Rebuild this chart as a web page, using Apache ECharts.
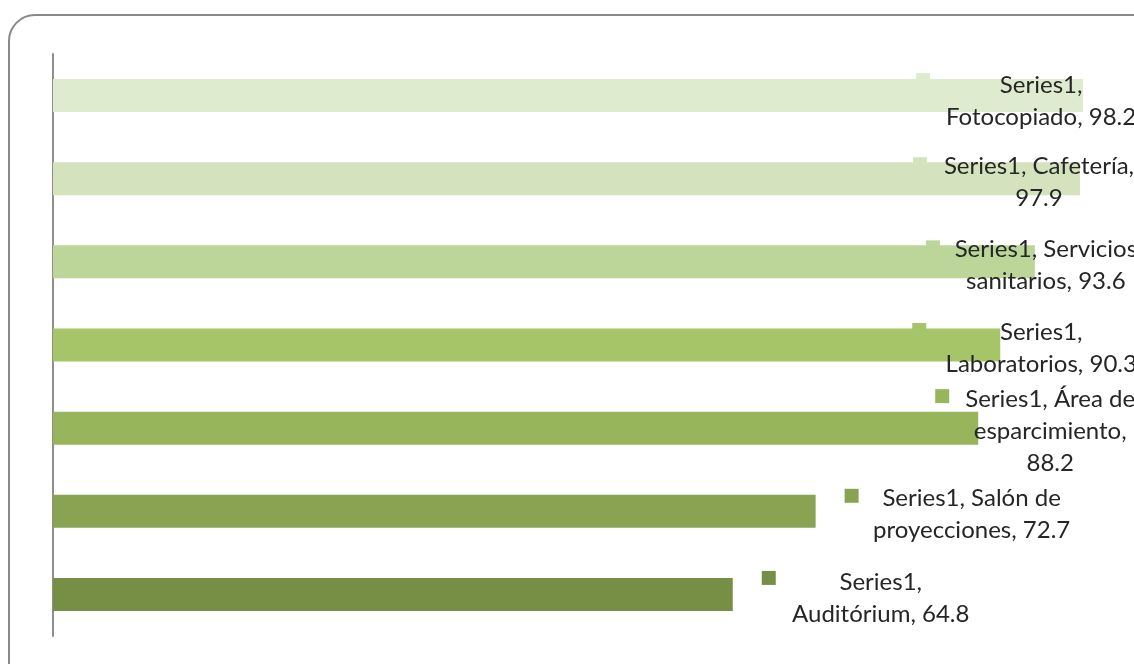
<!DOCTYPE html>
<html>
<head>
<meta charset="utf-8">
<style>
  html, body { margin: 0; padding: 0; background: #ffffff; }
  #chart { width: 1134px; height: 664px; }
</style>
<script src="https://cdn.jsdelivr.net/npm/echarts@6/dist/echarts.min.js"></script>
</head>
<body>
<div id="chart"></div>
<script>
// Satisfaction by facility (top to bottom)
const seriesName = 'Series1';
const categories = ['Fotocopiado', 'Cafetería', 'Servicios sanitarios', 'Laboratorios',
                    'Área de esparcimiento', 'Salón de proyecciones', 'Auditórium'];
const values = [98.2, 97.9, 93.6, 90.3, 88.2, 72.7, 64.8];

// Words per line when the data label wraps
const labelLines = [[1, 2], [2, 1], [2, 2], [1, 2], [3, 1, 1], [3, 2], [1, 2]];

// Bar fills, light to dark green
const palette = ['#dfebcf', '#d4e3be', '#bcd598', '#a6c468', '#97b55b', '#89a352', '#778f45'];

// Label placement relative to the bar end: text centre [dx, dy], key square [dx, dy]
const labelPlace = [
  { text: [-42, 5.5], key: [-167, -22.5] },
  { text: [-41, 3.5], key: [-167, -21.5] },
  { text: [11, 3.5],  key: [-109, -21.5] },
  { text: [41, 3.5],  key: [-88, -22] },
  { text: [72, 3.5],  key: [-43, -39] },
  { text: [156, 3],   key: [29, -22.5] },
  { text: [148, 4],   key: [29, -23.5] }
];

function labelText(i) {
  const words = (seriesName + ', ' + categories[i] + ', ' + values[i]).split(' ');
  const lines = [];
  let k = 0;
  labelLines[i].forEach(function (n) {
    lines.push(words.slice(k, k + n).join(' '));
    k += n;
  });
  return lines.join('\n');
}

const chart = echarts.init(document.getElementById('chart'), null, { renderer: 'canvas' });

const option = {
  animation: false,
  backgroundColor: '#ffffff',
  graphic: [{
    type: 'rect',
    z: -10,
    shape: { x: 9, y: 15, width: 1180, height: 720, r: 26 },
    style: { fill: 'none', stroke: '#8a8a8a', lineWidth: 2 }
  }],
  grid: { left: 53, right: 32, top: 54, bottom: 28, containLabel: false },
  xAxis: {
    type: 'value', min: 0, max: 100,
    show: false
  },
  yAxis: {
    type: 'category',
    data: categories,
    inverse: true,
    axisLine: { show: true, lineStyle: { color: '#8e8e8e', width: 2 } },
    axisTick: { show: false },
    axisLabel: { show: false },
    splitLine: { show: false }
  },
  series: [
    {
      type: 'bar',
      name: seriesName,
      barWidth: 33,
      data: values.map(function (v, i) {
        return { value: v, itemStyle: { color: palette[i] } };
      }),
      z: 2
    },
    {
      type: 'custom',
      name: seriesName + ' labels',
      clip: false,
      z: 5,
      encode: { x: 0, y: 1 },
      data: values.map(function (v, i) { return [v, i]; }),
      renderItem: function (params, api) {
        const i = params.dataIndex;
        const end = api.coord([api.value(0), api.value(1)]);
        const p = labelPlace[i];
        return {
          type: 'group',
          children: [
            {
              type: 'rect',
              shape: { x: end[0] + p.key[0], y: end[1] + p.key[1], width: 14, height: 14 },
              style: { fill: palette[i] }
            },
            {
              type: 'text',
              x: end[0] + p.text[0],
              y: end[1] + p.text[1],
              style: {
                text: labelText(i),
                fill: '#262626',
                fontFamily: 'Lato',
                fontSize: 24,
                lineHeight: 32,
                align: 'center',
                verticalAlign: 'middle'
              }
            }
          ]
        };
      }
    }
  ]
};

chart.setOption(option);
</script>
</body>
</html>
